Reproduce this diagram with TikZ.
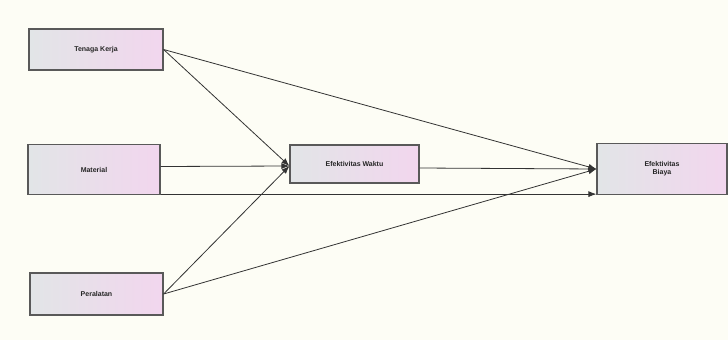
\documentclass[tikz,border=0pt]{standalone}
\usepackage{fontspec}
\setmainfont{Liberation Sans}
\usetikzlibrary{arrows.meta,positioning}
\definecolor{bgCream} {RGB}{253,253,245}
\definecolor{boxLeft} {RGB}{226,229,231}
\definecolor{boxRight}{RGB}{242,214,238}

\begin{document}
\begin{tikzpicture}[x=1pt,y=-1pt,
  every node/.style={font=\fontsize{7}{8}\selectfont\bfseries},
  var/.style={draw=gray!70!black,line width=1.2pt,left color=boxLeft,
              right color=boxRight,align=center,inner sep=0pt,text=black!85},
  link/.style={-{Latex[length=8pt,width=6pt]},line width=0.8pt,draw=black!80}
]
% Background
\fill[bgCream] (0,0) rectangle (728,340);
\useasboundingbox (0,0) rectangle (728,340);
% Variables
\node[var,minimum width=134pt,minimum height=41pt] (tk)    at (96,49.5)   {Tenaga Kerja};
\node[var,minimum width=132pt,minimum height=50pt] (mat)   at (94,169.5)  {Material};
\node[var,minimum width=133pt,minimum height=42pt] (alat)  at (96.5,294)  {Peralatan};
\node[var,minimum width=129pt,minimum height=38pt] (waktu) at (354.5,164) {Efektivitas Waktu};
\node[var,minimum width=130pt,minimum height=51pt] (biaya) at (662,169)   {Efektivitas\\Biaya};
% Paths to Efektivitas Waktu
\draw[link] (tk.east) -- ([yshift=-2pt]waktu.west);
\draw[link] ([yshift=3pt]mat.east) -- ([yshift=-2pt]waktu.west);
\draw[link] (alat.east) -- ([yshift=-2pt]waktu.west);
% Paths to Efektivitas Biaya
\draw[link] (tk.east) -- (biaya.west);
\draw[link] ([yshift=-4pt]waktu.east) -- (biaya.west);
\draw[link] (alat.east) -- (biaya.west);
\draw[link] ([yshift=1pt]mat.south east) -- ([yshift=1pt]mat.south east -| biaya.west);
\end{tikzpicture}
\end{document}
